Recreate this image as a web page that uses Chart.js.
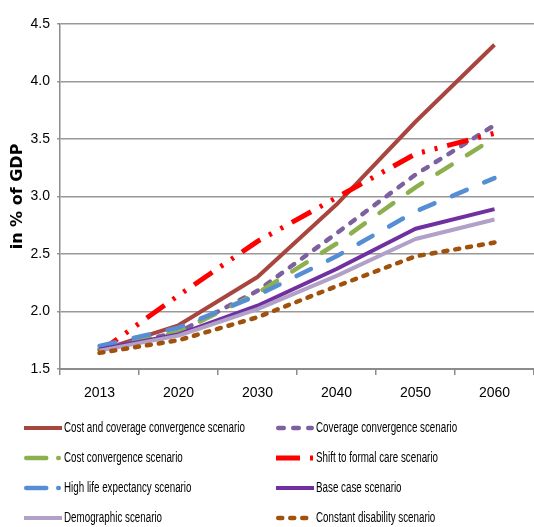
<!DOCTYPE html>
<html lang="en">
<head>
  <meta charset="UTF-8">
  <title>Long-term care expenditure scenarios</title>
  <script src="https://cdn.jsdelivr.net/npm/chart.js"></script>
  <style>
    body {
      margin: 0;
      padding: 0;
      background-color: #ffffff;
    }

    #chart-container {
      width: 534px;
      height: 527px;
    }
  </style>
</head>
<body>
  <div id="chart-container">
    <canvas id="ltcChart"></canvas>
  </div>

  <script>
    // values (in % of GDP)
    const years = ['2013', '2020', '2030', '2040', '2050', '2060'];
    const costCoverage = [1.66, 1.88, 2.30, 2.93, 3.65, 4.32];
    const coverage = [1.67, 1.82, 2.18, 2.68, 3.19, 3.62];
    const costConvergence = [1.67, 1.82, 2.16, 2.59, 3.08, 3.51];
    const shiftFormal = [1.65, 2.14, 2.61, 2.99, 3.37, 3.55];
    const highLife = [1.70, 1.86, 2.14, 2.48, 2.87, 3.16];
    const baseCase = [1.67, 1.80, 2.05, 2.37, 2.72, 2.89];
    const demographic = [1.66, 1.79, 2.02, 2.31, 2.63, 2.80];
    const constantDisability = [1.64, 1.75, 1.95, 2.22, 2.48, 2.60];
    const yTicks = [1.5, 2.0, 2.5, 3.0, 3.5, 4.0, 4.5];

    const labelFont = '"Liberation Sans", Arial, sans-serif';

    const series = [
      { label: 'Cost and coverage convergence scenario', data: costCoverage, color: '#A9453F', width: 4, dash: [], cap: 'butt' },
      { label: 'Coverage convergence scenario', data: coverage, color: '#7D60A0', width: 4.5, dash: [5.5, 9.5], cap: 'round' },
      { label: 'Cost convergence scenario', data: costConvergence, color: '#8DB04F', width: 4.5, dash: [17, 18], cap: 'round', legendDash: [20, 12, 0.5, 12] },
      { label: 'Shift to formal care scenario', data: shiftFormal, color: '#FF0000', width: 5, dash: [22, 10, 3, 10, 3, 10], cap: 'butt', legendDash: [24, 10, 3, 30] },
      { label: 'High life expectancy scenario', data: highLife, color: '#558ED5', width: 4.5, dash: [16, 19], cap: 'round', legendDash: [20, 12, 0.5, 12] },
      { label: 'Base case scenario', data: baseCase, color: '#7030A0', width: 4, dash: [], cap: 'butt' },
      { label: 'Demographic scenario', data: demographic, color: '#B1A0C7', width: 4, dash: [], cap: 'butt' },
      { label: 'Constant disability scenario', data: constantDisability, color: '#A0520C', width: 4.5, dash: [4, 8], cap: 'round' },
    ];

    // legend drawn in two columns under the plot, like the original
    const twoColumnLegend = {
      id: 'twoColumnLegend',
      afterDraw(chart) {
        const ctx = chart.ctx;
        const colX = [24, 276];
        const lineLen = 38;
        chart.data.datasets.forEach((ds, i) => {
          const x = colX[i % 2];
          const y = 428 + Math.floor(i / 2) * 30;
          ctx.save();
          ctx.beginPath();
          ctx.strokeStyle = ds.borderColor;
          ctx.lineWidth = ds.borderWidth;
          ctx.lineCap = ds.borderCapStyle;
          ctx.setLineDash(ds.legendDash || ds.borderDash || []);
          const inset = ds.borderCapStyle === 'round' ? ds.borderWidth / 2 : 0;
          ctx.moveTo(x + inset, y);
          ctx.lineTo(x + lineLen - inset, y);
          ctx.stroke();
          ctx.restore();

          // narrow text, the original uses a condensed face
          ctx.save();
          ctx.font = '14px ' + labelFont;
          ctx.textBaseline = 'middle';
          ctx.fillStyle = '#000000';
          ctx.translate(x + lineLen + 2, y);
          ctx.scale(0.7, 1);
          ctx.fillText(ds.label, 0, 0);
          ctx.restore();
        });
      }
    };

    const ctx = document.getElementById('ltcChart').getContext('2d');

    new Chart(ctx, {
      type: 'line',
      data: {
        labels: years,
        datasets: series.map((s, i) => ({
          label: s.label,
          data: s.data,
          borderColor: s.color,
          backgroundColor: s.color,
          borderWidth: s.width,
          borderDash: s.dash,
          borderCapStyle: s.cap,
          borderJoinStyle: 'round',
          legendDash: s.legendDash,
          pointRadius: 0,
          tension: 0,
          fill: false,
          order: series.length - i, // later series on top, as in the original
        })),
      },
      options: {
        responsive: true,
        maintainAspectRatio: false,
        animation: false,
        layout: {
          padding: { left: 0, right: 0, top: 24, bottom: 128 },
        },
        plugins: {
          legend: { display: false },
          tooltip: { enabled: false },
        },
        scales: {
          x: {
            offset: true,
            grid: {
              offset: true,
              drawOnChartArea: false,
              drawTicks: true,
              tickLength: 6,
              color: '#8C8C8C',
              lineWidth: 1.5,
            },
            border: { color: '#8C8C8C', width: 2 },
            ticks: {
              color: '#000000',
              font: { family: labelFont, size: 14 },
              padding: 10,
              maxRotation: 0,
            },
            afterFit(scale) {
              scale.height = 30;
            },
          },
          y: {
            min: 1.5,
            max: 4.5,
            afterBuildTicks(scale) {
              scale.ticks = yTicks.map(v => ({ value: v }));
            },
            grid: {
              color: '#989898',
              lineWidth: 1.5,
              tickLength: 3,
            },
            border: { color: '#8C8C8C', width: 1.5 },
            ticks: {
              color: '#000000',
              font: { family: labelFont, size: 14 },
              padding: 7,
              callback: v => Number(v).toFixed(1),
            },
            title: {
              display: true,
              text: 'in % of GDP',
              color: '#000000',
              font: { family: '"DejaVu Sans", sans-serif', size: 16, weight: 'bold' },
              padding: { top: 8, bottom: 0 },
            },
            afterFit(scale) {
              scale.width = 60;
            },
          },
        },
      },
      plugins: [twoColumnLegend],
    });
  </script>
</body>
</html>
